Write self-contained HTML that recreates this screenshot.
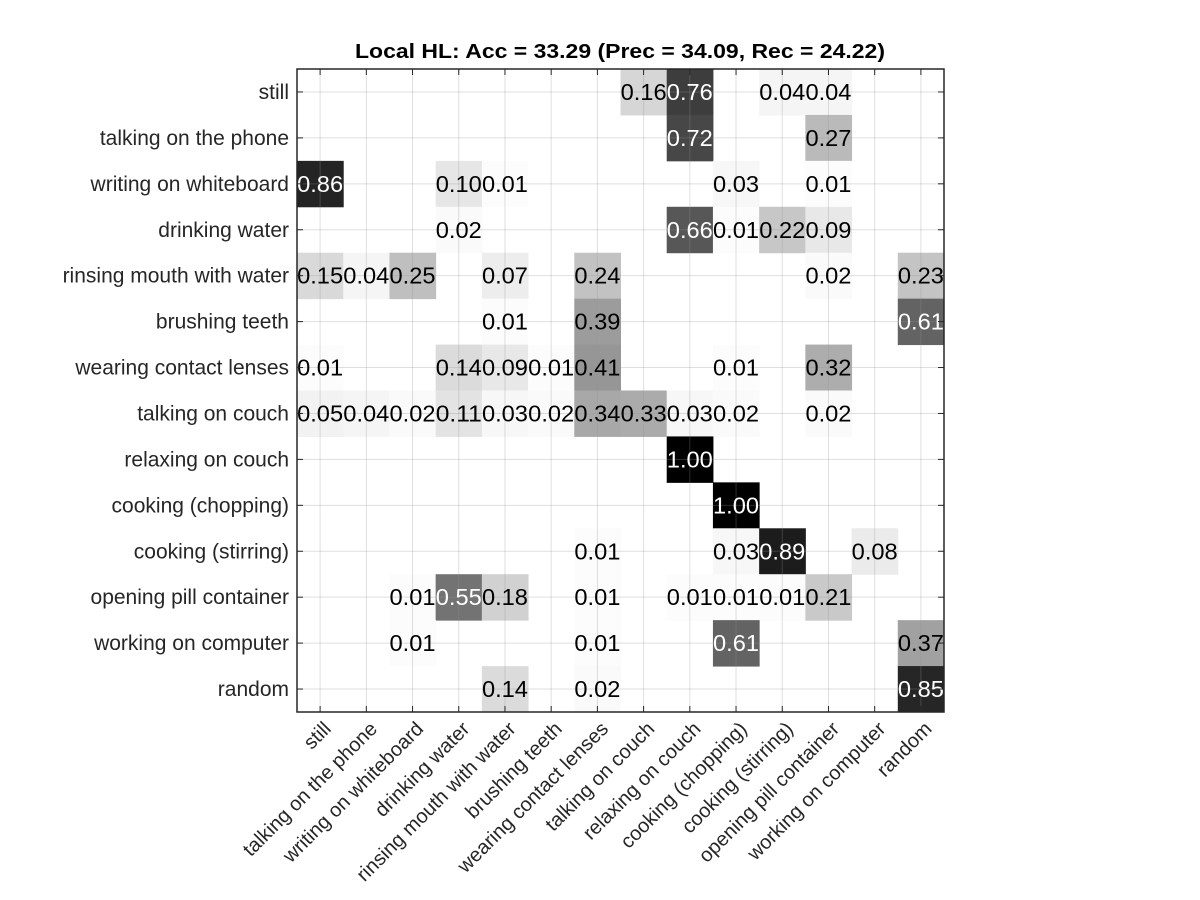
<!DOCTYPE html>
<html><head><meta charset="utf-8"><style>
html,body{margin:0;padding:0;background:#fff;}
svg{display:block;font-family:"Liberation Sans",Arial,sans-serif;}
</style></head><body>
<svg id="chart" width="1200" height="900" viewBox="0 0 1200 900">
<rect x="0" y="0" width="1200" height="900" fill="#fff"/>
<text x="620" y="58" text-anchor="middle" font-size="20" font-weight="bold" fill="#000" textLength="530" lengthAdjust="spacingAndGlyphs">Local HL: Acc = 33.29 (Prec = 34.09, Rec = 24.22)</text>
<g id="cells"></g><g id="grid"></g><g id="vals"></g><g id="axes"></g>
</svg>
<script>
const categories = ["still","talking on the phone","writing on whiteboard","drinking water","rinsing mouth with water","brushing teeth","wearing contact lenses","talking on couch","relaxing on couch","cooking (chopping)","cooking (stirring)","opening pill container","working on computer","random"];
const row0 = [0,0,0,0,0,0,0,0.16,0.76,0,0.04,0.04,0,0];
const row1 = [0,0,0,0,0,0,0,0,0.72,0,0,0.27,0,0];
const row2 = [0.86,0,0,0.10,0.01,0,0,0,0,0.03,0,0.01,0,0];
const row3 = [0,0,0,0.02,0,0,0,0,0.66,0.01,0.22,0.09,0,0];
const row4 = [0.15,0.04,0.25,0,0.07,0,0.24,0,0,0,0,0.02,0,0.23];
const row5 = [0,0,0,0,0.01,0,0.39,0,0,0,0,0,0,0.61];
const row6 = [0.01,0,0,0.14,0.09,0.01,0.41,0,0,0.01,0,0.32,0,0];
const row7 = [0.05,0.04,0.02,0.11,0.03,0.02,0.34,0.33,0.03,0.02,0,0.02,0,0];
const row8 = [0,0,0,0,0,0,0,0,1.00,0,0,0,0,0];
const row9 = [0,0,0,0,0,0,0,0,0,1.00,0,0,0,0];
const row10 = [0,0,0,0,0,0,0.01,0,0,0.03,0.89,0,0.08,0];
const row11 = [0,0,0.01,0.55,0.18,0,0.01,0,0.01,0.01,0.01,0.21,0,0];
const row12 = [0,0,0.01,0,0,0,0.01,0,0,0.61,0,0,0,0.37];
const row13 = [0,0,0,0,0.14,0,0.02,0,0,0,0,0,0,0.85];
const matrix = [row0,row1,row2,row3,row4,row5,row6,row7,row8,row9,row10,row11,row12,row13];

const NS="http://www.w3.org/2000/svg";
const L=297,R=944,T=69,B=712,n=categories.length;
const cw=(R-L)/n, ch=(B-T)/n;
const xPos=i=>L+i*cw, yPos=j=>T+j*ch;
function mk(tag,attrs,parent){const e=document.createElementNS(NS,tag);for(const k in attrs)e.setAttribute(k,attrs[k]);parent.appendChild(e);return e;}
const gc=document.getElementById('cells'),gg=document.getElementById('grid'),gv=document.getElementById('vals'),ga=document.getElementById('axes');
matrix.forEach((row,j)=>row.forEach((v,i)=>{
  if(v<=0)return;
  const g=Math.round((1-v)*255);
  const r=mk('rect',{x:xPos(i),y:yPos(j),width:cw+0.5,height:ch+0.5,fill:`rgb(${g},${g},${g})`},gc);
  
  
  const t=mk('text',{x:xPos(i)+cw/2,y:yPos(j)+ch/2+8,'text-anchor':'middle','font-size':23,fill:v>0.5?'#fff':'#000',textLength:46,lengthAdjust:'spacingAndGlyphs'},gv);
  t.textContent=v.toFixed(2);
  
  
}));
for(let i=0;i<n;i++){
  const cx=xPos(i)+cw/2, cy=yPos(i)+ch/2;
  mk('line',{x1:cx,y1:T,x2:cx,y2:B,stroke:'rgba(150,150,150,0.3)','stroke-width':1},gg);
  mk('line',{x1:L,y1:cy,x2:R,y2:cy,stroke:'rgba(150,150,150,0.3)','stroke-width':1},gg);
  mk('line',{x1:cx,y1:B,x2:cx,y2:B-6,stroke:'#262626'},ga);
  mk('line',{x1:cx,y1:T,x2:cx,y2:T+6,stroke:'#262626'},ga);
  mk('line',{x1:L,y1:cy,x2:L+6,y2:cy,stroke:'#262626'},ga);
  mk('line',{x1:R,y1:cy,x2:R-6,y2:cy,stroke:'#262626'},ga);
  const yl=mk('text',{x:L-8,y:cy+7,'text-anchor':'end','font-size':21,fill:'#262626'},ga);
  yl.textContent=categories[i];
  
  
  const xl=mk('text',{'text-anchor':'end','font-size':20,fill:'#262626',transform:`translate(${cx+12},${B+18}) rotate(-45)`},ga);
  xl.textContent=categories[i];
  
  
}
const box=mk('rect',{x:L,y:T,width:R-L,height:B-T,fill:'none',stroke:'#262626','stroke-width':1.5},ga);


</script>
</body></html>
